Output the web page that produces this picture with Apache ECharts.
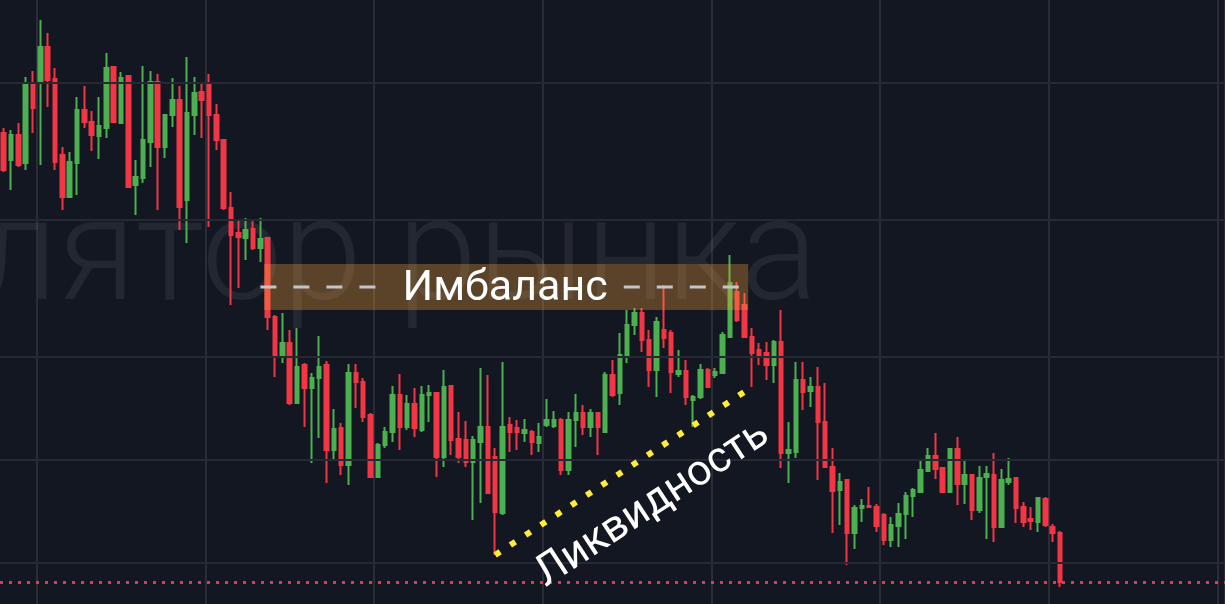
<!DOCTYPE html>
<html><head><meta charset="utf-8">
<script src="https://cdn.jsdelivr.net/npm/echarts@6/dist/echarts.min.js"></script>
<style>html,body{margin:0;padding:0;background:#131722;overflow:hidden}#c{width:1225px;height:604px}</style>
</head><body><div id="c"></div>
<script>
// ---- data (price units) ----
const opens  = [471,444,469,441,521,522,557,525,449,407,441,494,482,468,476,537,481,528,419,426,462,522,457,489,504,404,489,512,519,489,464,396,371,366,375,356,366,287,249,261,201,239,216,226,239,154,176,139,231,222,189,127,159,172,209,177,200,174,209,211,147,218,165,164,142,162,177,147,91,179,176,171,172,161,179,178,184,134,184,191,177,191,172,229,211,249,279,291,264,234,274,271,230,233,204,207,234,229,231,267,312,299,267,254,251,239,262,151,152,224,213,217,182,137,114,124,71,96,98,97,89,64,78,90,108,112,133,148,136,112,155,120,129,94,127,129,77,122,126,97,85,82,105,77,71];
const closes = [434,469,439,521,496,557,524,442,407,442,494,482,469,478,536,482,526,417,427,464,522,457,489,504,397,491,511,504,489,464,396,369,367,374,356,365,287,249,261,201,237,216,226,237,154,175,139,231,222,187,127,159,172,209,177,200,176,209,211,147,217,164,147,142,164,177,111,92,177,172,172,174,162,167,184,184,134,184,191,177,191,177,229,209,249,279,291,264,234,282,266,232,233,207,207,234,217,232,269,321,284,267,251,249,239,262,151,154,224,212,217,182,137,113,122,71,96,98,97,78,64,79,90,108,114,134,148,135,112,155,120,129,94,126,130,77,124,125,96,82,83,106,79,71,22];
const lows   = [432,414,437,434,471,439,497,434,394,407,409,476,453,445,466,481,480,416,389,421,437,394,446,477,374,361,469,466,377,454,394,299,316,344,354,342,274,227,241,199,201,177,141,166,121,144,129,119,196,182,126,127,156,162,154,174,167,172,182,127,137,149,141,137,84,101,111,49,89,152,154,162,149,152,177,176,129,129,157,169,167,149,172,207,199,241,269,252,217,207,256,211,227,199,177,205,216,226,231,267,282,266,217,239,224,221,136,121,146,194,197,124,137,71,79,39,55,82,96,72,59,57,57,65,87,111,132,125,111,111,99,100,84,91,65,62,76,119,81,77,74,72,77,62,17];
const highs  = [476,474,481,527,533,584,571,536,457,452,507,518,493,507,551,538,532,529,444,538,533,530,490,526,518,547,527,521,530,500,465,412,384,386,383,386,367,289,291,274,276,241,231,268,243,195,181,240,240,226,191,161,177,218,230,209,216,218,219,212,234,219,192,183,168,236,229,156,242,187,184,185,174,181,205,193,186,192,210,199,195,192,232,244,271,294,296,296,274,287,319,274,254,244,209,240,236,236,272,349,322,311,276,261,262,264,294,182,242,242,227,237,221,156,131,125,99,105,117,100,91,87,101,112,116,144,156,171,137,156,167,145,129,138,138,151,135,146,127,102,97,107,107,80,73];
const slotCount   = 167;                       // candles + empty space on the right
const gridPrices  = [521, 384, 247, 144, 41];  // horizontal grid levels
const vGridFirst  = 5, vGridEvery = 23;        // vertical grid every 23 bars
const imbalanceBars   = [35, 101];             // first / last bar of the zone
const imbalancePrices = [294, 340];            // zone low / high
const imbalanceLabel  = 'Имбаланс';
const liquidityBars   = [67, 102];             // dotted line joins the lows of these bars
const liquidityLabel  = 'Ликвидность';
const watermarkText   = 'Манипулятор рынка';

const categories = Array.from({length: slotCount}, (_, i) => String(i + 1));
const candles = opens.map((o, i) => [o, closes[i], lows[i], highs[i]]);
const lastPrice = closes[closes.length - 1];
const liqData = liquidityBars.map(b => [b, lows[b]]);

const chart = echarts.init(document.getElementById('c'), null, {renderer: 'canvas'});
const option = {
  backgroundColor: '#131722',
  animation: false,
  grid: {left: -1.98, right: -1.5, top: 0, bottom: 0, containLabel: false},
  xAxis: {
    type: 'category', data: categories, boundaryGap: true,
    axisLine: {show: false}, axisTick: {show: false}, axisLabel: {show: false},
    splitLine: {show: true, interval: (idx) => idx >= vGridFirst && (idx - vGridFirst) % vGridEvery === 0,
      lineStyle: {color: '#2a2d36', width: 2}}
  },
  yAxis: {
    type: 'value', min: 0, max: 604, show: true,
    axisLine: {show: false}, axisTick: {show: false}, axisLabel: {show: false}, splitLine: {show: false}
  },
  series: [
    {
      type: 'line', data: [], z: 0, silent: true,
      markLine: {silent: true, symbol: 'none', label: {show: false},
        lineStyle: {color: '#252933', width: 2, type: 'solid'},
        data: gridPrices.map(p => ({yAxis: p}))}
    },
    {
      type: 'candlestick', data: candles, barWidth: 4, z: 2,
      itemStyle: {color: '#4caf50', color0: '#f23645', borderColor: '#4caf50', borderColor0: '#f23645', borderWidth: 2},
      markLine: {silent: true, symbol: 'none', label: {show: false},
        lineStyle: {color: '#e5365a', width: 3, type: [3, 6]},
        data: [{yAxis: lastPrice}]}
    },
    {
      type: 'line', data: liqData, z: 5, silent: true, symbol: 'none',
      lineStyle: {color: '#ffeb3b', width: 6, type: [6, 12.2], cap: 'butt'}
    }
  ]
};
chart.setOption(option);

function xAt(idx) {
  const i0 = Math.floor(idx), f = idx - i0;
  const a = chart.convertToPixel({xAxisIndex: 0}, i0);
  const b = chart.convertToPixel({xAxisIndex: 0}, i0 + 1);
  return a + f * (b - a);
}
function yAt(p) { return chart.convertToPixel({yAxisIndex: 0}, p); }

const ctx = document.createElement('canvas').getContext('2d');
ctx.font = '400 43px Roboto';
const labelW = ctx.measureText(imbalanceLabel).width;

const rx1 = xAt(imbalanceBars[0] + 0.5), rx2 = xAt(imbalanceBars[1] + 0.5);
const ry1 = yAt(imbalancePrices[1]), ry2 = yAt(imbalancePrices[0]);
const midY = yAt((imbalancePrices[0] + imbalancePrices[1]) / 2);
const lx1 = xAt(imbalanceBars[0]), lx2 = xAt(imbalanceBars[1]);
const cx = (rx1 + rx2) / 2;
const gapL = cx - labelW / 2 - 18, gapR = cx + labelW / 2 + 15;

const A = [xAt(liquidityBars[0]), yAt(lows[liquidityBars[0]])];
const B = [xAt(liquidityBars[1]), yAt(lows[liquidityBars[1]])];
const ang = Math.atan2(A[1] - B[1], B[0] - A[0]);
const dir = [Math.cos(ang), -Math.sin(ang)], nrm = [Math.sin(ang), Math.cos(ang)];
const mid = [(A[0] + B[0]) / 2, (A[1] + B[1]) / 2];
const tc = [mid[0] + 44 * nrm[0] + 6 * dir[0], mid[1] + 44 * nrm[1] + 6 * dir[1]];

chart.setOption({
  graphic: [
    {type: 'text', x: 818, y: 263, z: 0, zlevel: 0, silent: true,
      style: {text: watermarkText, font: '300 144px Roboto', fill: 'rgba(255,255,255,0.07)', align: 'right', verticalAlign: 'middle'}},
    {type: 'rect', z: 50, silent: true, shape: {x: rx1, y: ry1, width: rx2 - rx1, height: ry2 - ry1},
      style: {fill: 'rgba(255,170,60,0.3)'}},
    {type: 'line', z: 51, silent: true, shape: {x1: lx1, y1: midY, x2: gapL, y2: midY},
      style: {stroke: '#c3c5cc', lineWidth: 3, lineDash: [16, 17]}},
    {type: 'line', z: 51, silent: true, shape: {x1: gapR, y1: midY, x2: lx2, y2: midY},
      style: {stroke: '#c3c5cc', lineWidth: 3, lineDash: [16, 17]}},
    {type: 'text', z: 52, silent: true, x: cx - 1, y: midY + 2,
      style: {text: imbalanceLabel, font: '400 43px Roboto', fill: '#ffffff', align: 'center', verticalAlign: 'middle'}},
    {type: 'text', z: 52, silent: true, x: tc[0], y: tc[1], rotation: ang,
      style: {text: liquidityLabel, font: '400 43px Roboto', fill: '#ffffff', align: 'center', verticalAlign: 'middle'}}
  ]
});
</script>
</body></html>
